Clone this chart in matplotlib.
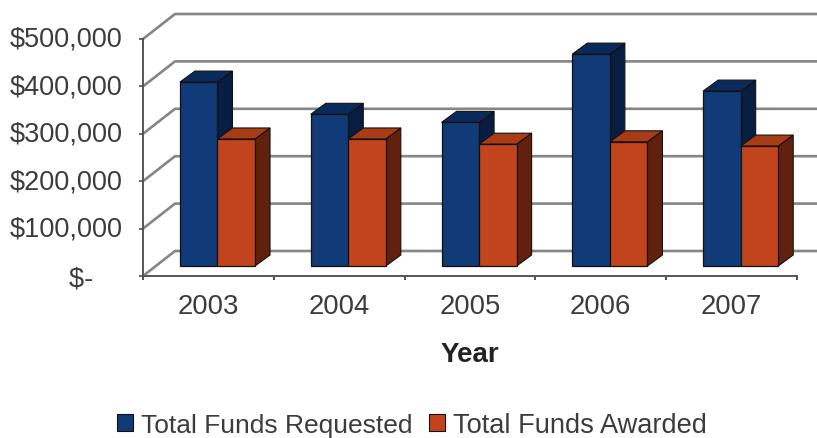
import matplotlib
matplotlib.use("Agg")
import matplotlib.pyplot as plt
from matplotlib.patches import Polygon, Patch
from matplotlib.transforms import Affine2D, IdentityTransform

plt.rcParams['font.family'] = ['Liberation Sans', 'DejaVu Sans']

years = ['2003', '2004', '2005', '2006', '2007']
requested = [388000, 320000, 303000, 447000, 369000]
awarded = [268000, 268000, 257000, 262000, 253000]
y_ticks = [0, 100000, 200000, 300000, 400000, 500000]
y_labels = ['$-    ', '$100,000', '$200,000', '$300,000', '$400,000', '$500,000']

W, H = 817, 439
fig = plt.figure(figsize=(W / 100, H / 100), dpi=100)
# front plane of the 3d box, in pixels from the picture
ax = fig.add_axes([143 / W, (H - 277) / H, 654 / W, 237 / H])
ax.set_xlim(0, 5)
ax.set_ylim(0, 500000)
ax.patch.set_alpha(0)

wall_dx, wall_dy = 32, 25   # back wall offset
bar_dx, bar_dy = 13, 10     # front of the bars, from the front plane
depth_dx, depth_dy = 15, 11 # depth of a bar
bar_w = 0.287
grid_col = '#858585'
text_col = '#3c3c3c'
dark_edge = '#14100e'


def shifted(dx, dy):
    return ax.transData + Affine2D().translate(dx, dy)


def draw_bar(left, value, front, top, side, z):
    right = left + bar_w
    base = shifted(bar_dx, bar_dy)
    back = shifted(bar_dx + depth_dx, bar_dy + depth_dy)
    # side and top need both planes so go through display coordinates
    side_pts = [base.transform((right, 0)), back.transform((right, 0)),
                back.transform((right, value)), base.transform((right, value))]
    top_pts = [base.transform((left, value)), back.transform((left, value)),
               back.transform((right, value)), base.transform((right, value))]
    for pts, col in [(side_pts, side), (top_pts, top)]:
        ax.add_patch(Polygon(pts, closed=True, transform=IdentityTransform(), fc=col, ec=dark_edge,
                             lw=0.8, clip_on=False, zorder=z))
    ax.bar(left, value, bar_w, align='edge', color=front, edgecolor=dark_edge, linewidth=0.9,
           transform=base, clip_on=False, zorder=z + 0.1)


# gridlines: slanted on the left wall, flat along the back wall
wall = shifted(wall_dx, wall_dy)
for v in y_ticks:
    a = ax.transData.transform((0, v))
    b = wall.transform((0, v))
    c = wall.transform((5, v))
    ax.add_line(plt.Line2D([a[0], b[0], c[0]], [a[1], b[1], c[1]], transform=IdentityTransform(),
                           color=grid_col, lw=1.9, clip_on=False, zorder=1))

for i in range(len(years)):
    left = i + 0.183
    draw_bar(left, requested[i], '#103a78', '#0b2a5c', '#071d42', 3 + i)
    draw_bar(left + bar_w, awarded[i], '#c2441d', '#a83c16', '#62210f', 3.5 + i)

for s in ['top', 'right']:
    ax.spines[s].set_visible(False)
for s in ['left', 'bottom']:
    ax.spines[s].set_color('#555555')
    ax.spines[s].set_linewidth(1.4)
    ax.spines[s].set_zorder(2)

ax.set_xticks(range(6))
ax.set_xticklabels([])
ax.set_xticks([i + 0.5 for i in range(5)], minor=True)
ax.set_xticklabels(years, minor=True, fontsize=19.8, color=text_col)
ax.tick_params(axis='x', which='major', length=3, width=1.2, color='#333333')
ax.tick_params(axis='x', which='minor', length=0, pad=12.5)
ax.set_yticks(y_ticks)
ax.set_yticklabels(y_labels, fontsize=19.5, color=text_col)
ax.tick_params(axis='y', length=3, width=1.2, color='#555555', pad=11.5)
for lab in ax.get_yticklabels()[1:]:
    lab.set_transform(lab.get_transform() + Affine2D().translate(0, 3))

ax.set_xlabel('Year', fontsize=20, fontweight='bold', color='#222222', labelpad=15.5)

handles = [Patch(fc='#103a78', ec=dark_edge, lw=0.8), Patch(fc='#c2441d', ec=dark_edge, lw=0.8)]
legend = fig.legend(handles, ['Total Funds Requested', 'Total Funds Awarded'], loc='lower left',
                    bbox_to_anchor=(112 / W, -5 / H), ncol=2, frameon=False, fontsize=19,
                    labelcolor=text_col, handlelength=0.6, handleheight=0.6, handletextpad=0.3,
                    columnspacing=0.62, borderpad=0.2, borderaxespad=0)
legend.get_texts()[1].set_fontsize(19.6)

fig.savefig('out.png', dpi=100, facecolor='white')
